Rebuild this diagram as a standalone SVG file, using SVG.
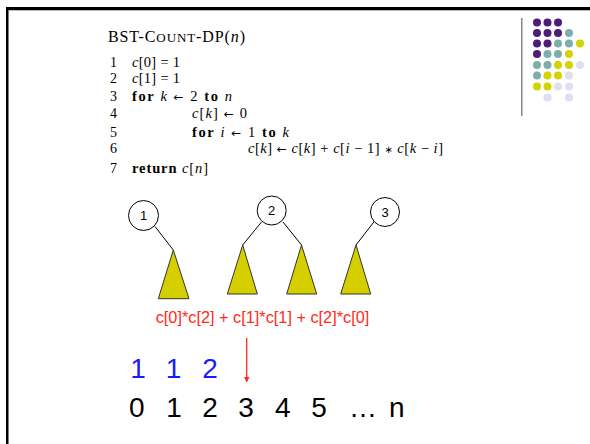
<svg xmlns="http://www.w3.org/2000/svg" width="590" height="444" viewBox="0 0 590 444">
<style>
.code{font-family:"Liberation Serif","Times New Roman",serif;font-size:14.5px;fill:#000}
.i{font-style:italic}
.b{font-weight:bold}
.ar{font-family:"DejaVu Sans",sans-serif;font-size:12px}
.st{font-family:"DejaVu Sans",sans-serif;font-size:10px}
.num{font-family:"Liberation Serif",serif;font-size:14px;fill:#000}
.circ{fill:#fff;stroke:#000;stroke-width:1}
.lbl{font-family:"Liberation Sans",Arial,sans-serif;font-size:13px;fill:#000;text-anchor:middle}
.tri{fill:#d6cf00;stroke:#333;stroke-width:1}
.edge{stroke:#000;stroke-width:1;fill:none}
.big{font-family:"Liberation Sans",Arial,sans-serif;font-size:28px;text-anchor:middle}
.p{fill:#4c1c7c}.t{fill:#7bafae}.y{fill:#d6d100}.l{fill:#e0def0}
</style>
<defs>
<marker id="ah" markerWidth="6" markerHeight="6" refX="5" refY="3" orient="auto" markerUnits="userSpaceOnUse">
<path d="M0,0 L6,3 L0,6 z" fill="#ff2a1a"/>
</marker>
</defs>
<rect width="590" height="444" fill="#fff"/>
<!-- frame -->
<rect x="6" y="7" width="584" height="3" fill="#000"/>
<rect x="8.5" y="10" width="581.5" height="1" fill="#bbb"/>
<rect x="6" y="7" width="2.5" height="437" fill="#000"/>
<!-- decoration -->
<g id="decor">
<rect x="521" y="18" width="1.5" height="98" fill="#888"/>
<circle class="p" cx="537" cy="22.5" r="4"/><circle class="p" cx="547.5" cy="22.5" r="4"/><circle class="p" cx="558" cy="22.5" r="4"/>
<circle class="p" cx="537" cy="33" r="4"/><circle class="p" cx="547.5" cy="33" r="4"/><circle class="p" cx="558" cy="33" r="4"/><circle class="t" cx="569" cy="33" r="4"/>
<circle class="p" cx="537" cy="43.5" r="4"/><circle class="p" cx="547.5" cy="43.5" r="4"/><circle class="t" cx="558" cy="43.5" r="4"/><circle class="t" cx="569" cy="43.5" r="4"/><circle class="y" cx="580" cy="43.5" r="4"/>
<circle class="p" cx="537" cy="54" r="4"/><circle class="t" cx="547.5" cy="54" r="4"/><circle class="t" cx="558" cy="54" r="4"/><circle class="y" cx="569" cy="54" r="4"/>
<circle class="t" cx="537" cy="65" r="4"/><circle class="t" cx="547.5" cy="65" r="4"/><circle class="y" cx="558" cy="65" r="4"/><circle class="y" cx="569" cy="65" r="4"/><circle class="l" cx="580" cy="65" r="4"/>
<circle class="t" cx="537" cy="75.5" r="4"/><circle class="y" cx="547.5" cy="75.5" r="4"/><circle class="y" cx="558" cy="75.5" r="4"/><circle class="l" cx="569" cy="75.5" r="4"/>
<circle class="y" cx="537" cy="86.5" r="4"/><circle class="y" cx="547.5" cy="86.5" r="4"/><circle class="l" cx="558" cy="86.5" r="4"/><circle class="l" cx="569" cy="86.5" r="4"/>
<circle class="l" cx="547.5" cy="97.5" r="4"/><circle class="l" cx="569" cy="97.5" r="4"/>
</g>
<!-- pseudocode -->
<g id="code">
<text class="code" x="108" y="42" style="font-size:16px" textLength="137" lengthAdjust="spacing">BST-C<tspan style="font-size:13px">OUNT</tspan>-DP(<tspan class="i">n</tspan>)</text>
<text class="num" x="110" y="66.5">1</text>
<text class="num" x="110" y="83">2</text>
<text class="num" x="110" y="101">3</text>
<text class="num" x="110" y="117.5">4</text>
<text class="num" x="110" y="136.5">5</text>
<text class="num" x="110" y="153">6</text>
<text class="num" x="110" y="173">7</text>
<text class="code" x="132" y="66.5" textLength="48" lengthAdjust="spacing"><tspan class="i">c</tspan>[0] = 1</text>
<text class="code" x="132" y="83" textLength="48" lengthAdjust="spacing"><tspan class="i">c</tspan>[1] = 1</text>
<text class="code" x="132" y="101" textLength="100" lengthAdjust="spacing"><tspan class="b">for</tspan> <tspan class="i">k</tspan> <tspan class="ar">←</tspan> 2 <tspan class="b">to</tspan> <tspan class="i">n</tspan></text>
<text class="code" x="192" y="117.5" textLength="55" lengthAdjust="spacing"><tspan class="i">c</tspan>[<tspan class="i">k</tspan>] <tspan class="ar">←</tspan> 0</text>
<text class="code" x="192" y="136.5" textLength="97" lengthAdjust="spacing"><tspan class="b">for</tspan> <tspan class="i">i</tspan> <tspan class="ar">←</tspan> 1 <tspan class="b">to</tspan> <tspan class="i">k</tspan></text>
<text class="code" x="248" y="153" textLength="195" lengthAdjust="spacing"><tspan class="i">c</tspan>[<tspan class="i">k</tspan>] <tspan class="ar">←</tspan> <tspan class="i">c</tspan>[<tspan class="i">k</tspan>] + <tspan class="i">c</tspan>[<tspan class="i">i</tspan> − 1] <tspan class="st">∗</tspan> <tspan class="i">c</tspan>[<tspan class="i">k</tspan> − <tspan class="i">i</tspan>]</text>
<text class="code" x="132" y="173" textLength="76" lengthAdjust="spacing"><tspan class="b">return</tspan> <tspan class="i">c</tspan>[<tspan class="i">n</tspan>]</text>
</g>
<!-- connectors -->
<g id="connectors">
<line class="edge" x1="155" y1="226.5" x2="173.3" y2="250"/>
<line class="edge" x1="261.5" y1="222" x2="242.7" y2="245"/>
<line class="edge" x1="283" y1="222" x2="301.5" y2="245"/>
<line class="edge" x1="375" y1="220.5" x2="356" y2="245"/>
<line x1="246.7" y1="338" x2="246.7" y2="381.5" stroke="#ff2a1a" stroke-width="1.3" marker-end="url(#ah)"/>
</g>
<!-- nodes -->
<g id="node1"><circle class="circ" cx="143.5" cy="215.5" r="15"/><text class="lbl" x="143.5" y="220">1</text></g>
<g id="node2"><circle class="circ" cx="271.7" cy="210.5" r="14.5"/><text class="lbl" x="271.7" y="215">2</text></g>
<g id="node3"><circle class="circ" cx="385" cy="212" r="14.5"/><text class="lbl" x="385" y="216.5">3</text></g>
<g id="tree1"><polygon class="tri" points="173.3,250 189,298.7 158.3,298.7"/></g>
<g id="tree2"><polygon class="tri" points="242.7,245 257.3,294 227.3,294"/></g>
<g id="tree3"><polygon class="tri" points="301.5,245 316.7,294 286.7,294"/></g>
<g id="tree4"><polygon class="tri" points="356,245 370.7,294 340.7,294"/></g>
<!-- formula -->
<text x="262.5" y="322.5" font-family="Liberation Sans, Arial, sans-serif" font-size="16.3" fill="#ff2a1a" text-anchor="middle">c[0]*c[2] + c[1]*c[1] + c[2]*c[0]</text>
<!-- values -->
<g id="values" fill="#1a1aff">
<text class="big" x="138" y="378">1</text>
<text class="big" x="173.5" y="378">1</text>
<text class="big" x="210" y="378">2</text>
</g>
<g id="indices" fill="#000">
<text class="big" x="136.7" y="416.5">0</text>
<text class="big" x="174" y="416.5">1</text>
<text class="big" x="210" y="416.5">2</text>
<text class="big" x="246" y="416.5">3</text>
<text class="big" x="282.7" y="416.5">4</text>
<text class="big" x="319" y="416.5">5</text>
<text class="big" x="363" y="416.5">…</text>
<text class="big" x="396.7" y="416.5">n</text>
</g>
</svg>
